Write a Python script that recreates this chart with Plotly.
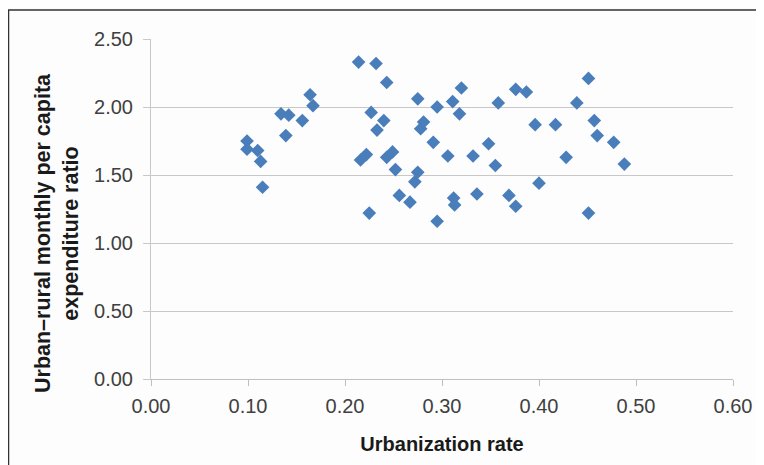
import plotly.graph_objects as go

# urbanization rate vs urban-rural monthly per capita expenditure ratio
urbanization_rate = [
    0.099, 0.099, 0.110, 0.113, 0.115, 0.134, 0.142, 0.139, 0.156, 0.164,
    0.167, 0.214, 0.232, 0.243, 0.227, 0.240, 0.233, 0.216, 0.222, 0.225,
    0.243, 0.249, 0.252, 0.256, 0.267, 0.272, 0.275, 0.275, 0.281, 0.278,
    0.291, 0.295, 0.295, 0.306, 0.311, 0.318, 0.320, 0.312, 0.313, 0.332,
    0.336, 0.348, 0.355, 0.358, 0.369, 0.376, 0.376, 0.387, 0.396, 0.400,
    0.417, 0.428, 0.439, 0.451, 0.451, 0.457, 0.460, 0.477, 0.488,
]
expenditure_ratio = [
    1.75, 1.69, 1.68, 1.60, 1.41, 1.95, 1.94, 1.79, 1.90, 2.09,
    2.01, 2.33, 2.32, 2.18, 1.96, 1.90, 1.83, 1.61, 1.65, 1.22,
    1.63, 1.67, 1.54, 1.35, 1.30, 1.45, 1.52, 2.06, 1.89, 1.84,
    1.74, 2.00, 1.16, 1.64, 2.04, 1.95, 2.14, 1.33, 1.28, 1.64,
    1.36, 1.73, 1.57, 2.03, 1.35, 1.27, 2.13, 2.11, 1.87, 1.44,
    1.87, 1.63, 2.03, 2.21, 1.22, 1.90, 1.79, 1.74, 1.58,
]

x_ticks = [0.0, 0.1, 0.2, 0.3, 0.4, 0.5, 0.6]
y_ticks = [0.0, 0.5, 1.0, 1.5, 2.0, 2.5]

fig = go.Figure(go.Scatter(
    x=urbanization_rate, y=expenditure_ratio, mode='markers',
    marker=dict(symbol='diamond', size=10.5, color='#4a7ebb', line=dict(width=0)),
))

FONT = 'Liberation Sans, Arial, sans-serif'
tick_font = dict(family=FONT, size=20, color='#404040')

# page has an 8px body margin, so the figure is 8px smaller than the window
fig.update_layout(
    width=756, height=457,
    margin=dict(l=143, r=31, t=31, b=86),
    paper_bgcolor='#fdfdfd', plot_bgcolor='#fdfdfd',
    showlegend=False,
    xaxis=dict(range=[0, 0.6], tickvals=x_ticks, tickformat='.2f', tickfont=tick_font,
               showgrid=False, zeroline=False, showline=True, linecolor='#bfbfbf',
               ticks='outside', ticklen=6, tickcolor='#bfbfbf', ticklabelstandoff=3,
               title=dict(text='<b>Urbanization rate</b>', standoff=20,
                          font=dict(family=FONT, size=20, color='#1a1a1a'))),
    yaxis=dict(range=[0, 2.5], tickvals=y_ticks, tickformat='.2f', tickfont=tick_font,
               showgrid=True, gridcolor='#c8c8c8', gridwidth=1.3, zeroline=False,
               showline=True, linecolor='#c8c8c8', ticks='outside', ticklen=7, tickcolor='#c8c8c8',
               ticklabelstandoff=6),
    annotations=[dict(
        text='<b>Urban\u2013rural monthly per capita<br>expenditure ratio</b>',
        xref='paper', yref='paper', x=(57 - 151) / 582, y=(379 - 233) / 340,
        xanchor='center', yanchor='middle', textangle=-90, showarrow=False,
        font=dict(family=FONT, size=21.5, color='#1a1a1a'),
    )],
    shapes=[dict(type='rect', xref='paper', yref='paper',
                 x0=(8.5 - 151) / 582, x1=2, y0=-1, y1=(379 - 10) / 340,
                 line=dict(color='#333333', width=1.5), fillcolor='rgba(0,0,0,0)')],
)

fig.write_html("out.html")
